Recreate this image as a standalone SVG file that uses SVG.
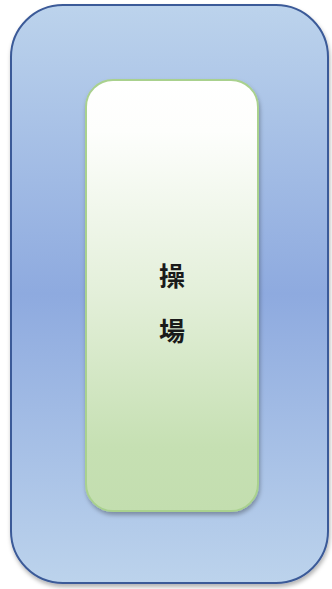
<svg xmlns="http://www.w3.org/2000/svg" width="332" height="589" viewBox="0 0 332 589">
<defs>
<linearGradient id="gOuter" x1="0" y1="0" x2="0" y2="1">
<stop offset="0" stop-color="#bcd3ec"/>
<stop offset="0.5" stop-color="#8eaadf"/>
<stop offset="1" stop-color="#bcd3ec"/>
</linearGradient>
<linearGradient id="gInner" x1="0" y1="0" x2="0" y2="1">
<stop offset="0" stop-color="#ffffff"/>
<stop offset="0.12" stop-color="#fdfefc"/>
<stop offset="0.5" stop-color="#e3efd9"/>
<stop offset="0.85" stop-color="#c6e0b3"/>
<stop offset="1" stop-color="#c3deaf"/>
</linearGradient>
<filter id="sh" x="-10%" y="-10%" width="120%" height="120%">
<feDropShadow dx="1" dy="3" stdDeviation="2" flood-color="#000" flood-opacity="0.3"/>
</filter>
<style>
.lbl{font-family:"Noto Sans CJK TC","Noto Sans CJK SC",sans-serif;font-size:26px;font-weight:bold;fill:#1a1a1a;text-anchor:middle}
</style>
</defs>
<g id="outer">
<rect x="11" y="5" width="317" height="578" rx="52" ry="52" fill="url(#gOuter)" stroke="#3b5a98" stroke-width="2" filter="url(#sh)"/>
</g>
<g id="inner">
<rect x="86" y="80" width="172" height="431" rx="27" ry="27" fill="url(#gInner)" stroke="#a9d18e" stroke-width="2" filter="url(#sh)"/>
<text class="lbl" x="172" y="286">操</text>
<text class="lbl" x="172" y="341">場</text>
</g>
<g id="connectors"/>
</svg>
